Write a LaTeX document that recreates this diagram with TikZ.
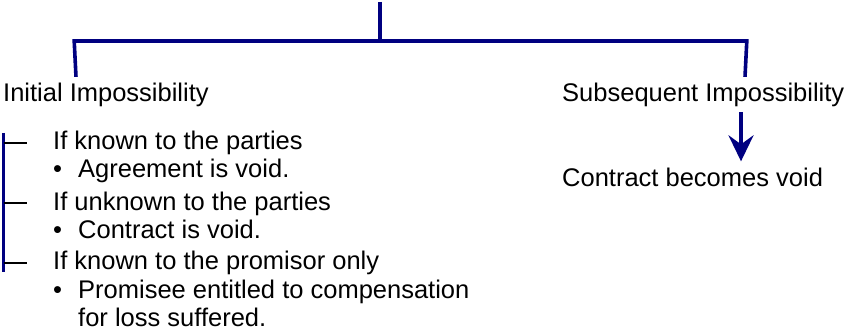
\documentclass[tikz,border=0pt]{standalone}
\usepackage{fontspec}
\setmainfont{Liberation Sans}
\usetikzlibrary{arrows.meta}
\definecolor{navy}{RGB}{0,0,128}
\begin{document}
\begin{tikzpicture}[x=1pt,y=-1pt,
  txt/.style={anchor=base west,inner sep=0pt,font=\fontsize{25.5}{29}\selectfont,text=black},
  mainline/.style={draw=navy,line width=3.6pt},
  barline/.style={draw=navy,line width=3pt},
  tickline/.style={draw=black,line width=2pt},
  arrowline/.style={draw=navy,line width=3.6pt,-{Stealth[length=26pt,width=25pt,inset=9pt]}}]
\useasboundingbox (0,0) rectangle (845,331);
% headings
\node[txt] (init) at (3,102) {Initial Impossibility};
\node[txt] (subs) at (562,102) {Subsequent Impossibility};
\node[txt] (cbv) at (562,186) {Contract becomes void};
% list
\node[txt] (k1) at (53,149.5) {If known to the parties};
\node[txt] (b1) at (53,178) {\char"2022};
\node[txt] (t1) at (78,178) {Agreement is void.};
\node[txt] (k2) at (53,210) {If unknown to the parties};
\node[txt] (b2) at (53,238) {\char"2022};
\node[txt] (t2) at (78,238) {Contract is void.};
\node[txt] (k3) at (53,269.5) {If known to the promisor only};
\node[txt] (b3) at (53,298) {\char"2022};
\node[txt] (t3) at (78,298) {Promisee entitled to compensation};
\node[txt] (t3b) at (78,326.5) {for loss suffered.};
% tree connectors
\coordinate (top) at (380,2);
\coordinate (jM) at (380,41);
\coordinate (jL) at (76,41);
\coordinate (jR) at (745,41);
\coordinate (ax) at (741,0);
\draw[mainline] (top) -- (jM);
\draw[mainline,line cap=butt] ([yshift=6.5pt]jL |- init.north) -- ([xshift=-1.8pt]jL) -- ([xshift=1.8pt]jR) -- ([yshift=6.5pt]jR |- subs.north);
\draw[arrowline] ([yshift=-5pt]subs.south -| ax) -- ([yshift=6pt]cbv.north -| ax);
% left bar and ticks
\coordinate (barTop) at (3.5,133);
\coordinate (barBot) at (3.5,272);
\draw[barline] (barTop) -- (barBot);
\draw[tickline] (barTop |- k1.west) -- ([xshift=-26pt]k1.west);
\draw[tickline] (barTop |- k2.west) -- ([xshift=-26pt]k2.west);
\draw[tickline] (barTop |- k3.west) -- ([xshift=-26pt]k3.west);
\end{tikzpicture}
\end{document}
